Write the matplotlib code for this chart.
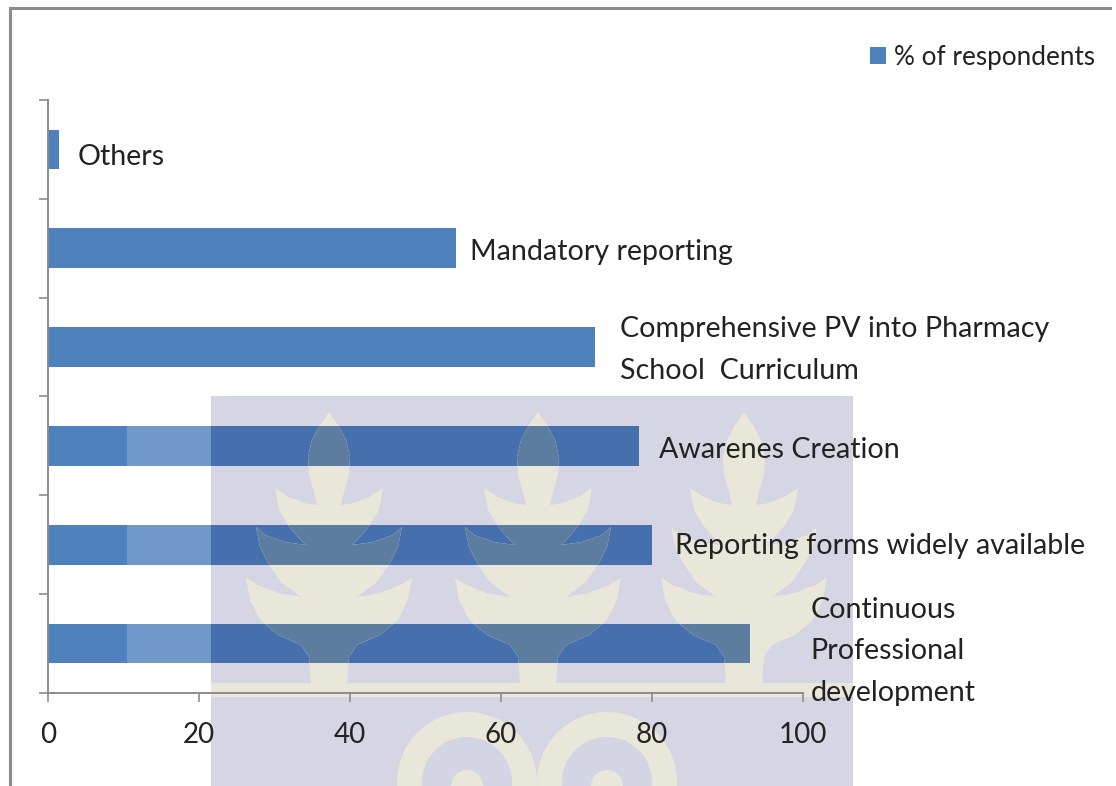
import matplotlib
matplotlib.use('Agg')
import matplotlib.pyplot as plt
from matplotlib.patches import Circle, Polygon, Rectangle

categories = ['Continuous\nProfessional\ndevelopment', 'Reporting forms widely available',
              'Awarenes Creation', 'Comprehensive PV into Pharmacy\nSchool  Curriculum',
              'Mandatory reporting', 'Others']
values = [93, 80, 78.3, 72.5, 54, 1.4]
xticks = [0, 20, 40, 60, 80, 100]

# how far each label sits from its bar end, as in the original slide
label_gap = [8.0, 3.0, 2.6, 3.3, 1.9, 2.5]
label_dy = [-0.08, -0.01, -0.04, -0.03, -0.04, -0.08]

W, H = 1116, 786
BAR = '#4F81BD'
GREY = '#8C8C8C'
TEXT = '#222222'
LILAC = '#D4D5E4'
LILAC_INK = '#202271'
CREAM = '#E9E7DA'
CREAM_ON_BAR = '#5C7DA0'

plt.rcParams['font.family'] = ['Lato', 'DejaVu Sans']

fig = plt.figure(figsize=(W / 100, H / 100), dpi=100)
pos = [48 / W, 1 - 693 / H, (803 - 48) / W, (693 - 100) / H]

ax = fig.add_axes(pos, zorder=1)
bars = ax.barh(range(len(values)), values, height=0.4, color=BAR, label='% of respondents')
ax.set_xlim(0, 100)
ax.set_ylim(-0.5, 5.5)
ax.axis('off')
ax.legend(loc='center right', bbox_to_anchor=(1095 / W, 1 - 57 / H), bbox_transform=fig.transFigure,
          frameon=False, fontsize=18.8, handlelength=0.62, handleheight=0.65, handletextpad=0.3,
          labelcolor=TEXT, borderpad=0, borderaxespad=0)

# the watermark of the scanned page lies over the bars, in page pixels
page = fig.add_axes([0, 0, 1, 1], zorder=2)
page.set_xlim(0, W)
page.set_ylim(H, 0)
page.axis('off')

page.add_patch(Rectangle((127, 396), 84, 297, color='white', alpha=0.19, lw=0))
page.add_patch(Rectangle((211, 396), 642, 390, color=LILAC_INK, alpha=0.19, lw=0))

half_tree = [(0, 412), (9, 425), (17, 440), (21, 457), (20, 475), (15, 492), (12, 505), (25, 503),
             (40, 497), (54, 488), (50, 510), (41, 525), (31, 537), (23, 545), (44, 542), (64, 535),
             (73, 527), (69, 547), (61, 563), (48, 582), (28, 597), (51, 593), (71, 585), (83, 578),
             (79, 600), (69, 620), (51, 635), (28, 645), (20, 657), (18, 684)]


def tree_outline(cx):
    right = [(cx + dx, y) for dx, y in half_tree]
    left = [(cx - dx, y) for dx, y in reversed(half_tree)]
    return right + left


for cx in [329, 538, 744]:
    page.add_patch(Polygon(tree_outline(cx), color=CREAM, lw=0))
    for bar in bars[:3]:
        p = Polygon(tree_outline(cx), color=CREAM_ON_BAR, lw=0)
        page.add_patch(p)
        p.set_clip_path(bar)
page.add_patch(Rectangle((211, 683), 642, 14, color=CREAM, lw=0))

for cx in [467, 607]:
    page.add_patch(Circle((cx, 782), 70, color=CREAM, lw=0))
    page.add_patch(Circle((cx, 782), 45, color=LILAC, lw=0))
    page.add_patch(Circle((cx, 786), 16, color=CREAM, lw=0))

# slide frame
page.plot([10, 10, 1110], [H, 8, 8], color=GREY, lw=2.2, solid_joinstyle='miter')

# axis lines and tick labels stay readable on top of the watermark
front = fig.add_axes(pos, zorder=3, facecolor='none')
front.set_xlim(0, 100)
front.set_ylim(-0.5, 5.5)
front.set_xticks(xticks)
front.set_yticks([i - 0.5 for i in range(7)])
front.set_yticklabels([])
front.tick_params(axis='x', length=6.5, width=1.2, color=GREY, labelsize=20, labelcolor=TEXT, pad=14.5)
front.tick_params(axis='y', length=6.5, width=1.2, color=GREY)
for side in ['top', 'right']:
    front.spines[side].set_visible(False)
for side in ['left', 'bottom']:
    front.spines[side].set_color(GREY)
    front.spines[side].set_linewidth(1.4)

for i, name in enumerate(categories):
    fig.text(values[i] + label_gap[i], i + label_dy[i], name, transform=ax.transData, zorder=4,
             fontsize=20.6, color=TEXT, va='center', ha='left', linespacing=1.75)

fig.savefig('out.png', dpi=100)
